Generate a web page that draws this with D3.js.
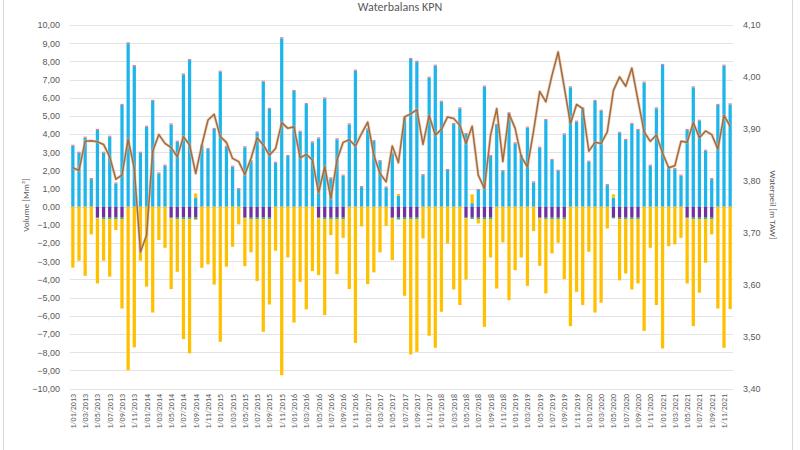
<!DOCTYPE html>
<html><head><meta charset="utf-8">
<script src="https://cdn.jsdelivr.net/npm/d3@7"></script>
<style>
body{margin:0;background:#fff;}
svg{display:block;font-family:Calibri,"Liberation Sans",Carlito,Arial,sans-serif;}
</style></head>
<body><svg id="c" width="800" height="450"></svg>
<script>
// ---- categories: first of each month, Jan 2013 .. Dec 2021
const months = [];
for (let yr = 2013; yr <= 2021; yr++) for (let m = 1; m <= 12; m++) months.push("1/" + String(m).padStart(2, "0") + "/" + yr);

// ---- positive side (Mm³)
const inflow = [
 3.35,2.97,3.80,1.52,4.22,2.97,3.85,1.28,5.60,8.99,7.74,2.97,
 4.40,5.82,1.83,2.26,4.53,3.58,7.28,8.07,0.48,3.36,3.17,4.28,
 7.43,3.30,2.20,0.97,3.27,2.51,4.09,6.88,5.38,2.42,9.27,2.79,
 6.37,4.13,5.65,3.54,3.76,5.96,1.56,3.71,1.71,4.53,7.49,1.08,
 4.26,3.61,2.51,1.06,2.94,0.60,4.90,8.13,7.98,1.74,7.10,7.76,
 5.78,2.02,4.55,5.41,4.00,0.20,0.92,6.61,2.79,4.50,1.96,5.14,
 3.49,2.79,4.35,1.34,3.25,4.77,2.57,1.98,3.98,6.57,4.68,5.41,
 2.48,5.82,5.28,1.19,0.50,4.07,3.67,4.55,4.22,6.83,2.26,5.41,
 7.80,2.17,2.07,1.71,4.22,6.57,4.73,3.08,1.52,5.60,7.76,5.63];
const inflowExtra = [
 0,0,0,0,0,0,0,0,0,0,0,0,
 0,0,0,0,0,0,0,0,0.25,0,0,0,
 0,0,0,0,0,0,0,0,0,0,0,0,
 0,0,0,0,0,0,0,0,0,0,0,0,
 0,0,0,0,0,0.10,0,0,0,0,0,0,
 0,0,0,0,0,0.48,0,0,0,0,0,0,
 0,0,0,0,0,0,0,0,0,0,0,0,
 0,0,0,0,0.18,0,0,0,0,0,0,0,
 0,0,0,0,0,0,0,0,0,0,0,0];
const rain = [
 0.06,0.06,0.06,0.06,0.06,0.06,0.06,0.06,0.06,0.06,0.06,0.06,
 0.06,0.06,0.06,0.06,0.06,0.06,0.06,0.06,0,0.06,0.06,0.06,
 0.06,0.06,0.06,0.06,0.06,0.06,0.06,0.06,0.06,0.06,0.06,0.06,
 0.06,0.06,0.06,0.06,0.06,0.06,0.06,0.06,0.06,0.06,0.06,0.06,
 0.06,0.06,0.06,0.06,0.06,0,0.06,0.06,0.06,0.06,0.06,0.06,
 0.06,0.06,0.06,0.06,0.06,0,0.06,0.06,0.06,0.06,0.06,0.06,
 0.06,0.06,0.06,0.06,0.06,0.06,0.06,0.06,0.06,0.06,0.06,0.06,
 0.06,0.06,0.06,0.06,0,0.06,0.06,0.06,0.06,0.06,0.06,0.06,
 0.06,0.06,0.06,0.06,0.06,0.06,0.06,0.06,0.06,0.06,0.06,0.06];

// ---- negative side (Mm³)
const evaporation = [
 0,0,0,0,-0.6,-0.6,-0.6,-0.6,-0.6,0,0,0,
 0,0,0,0,-0.6,-0.6,-0.6,-0.6,-0.6,0,0,0,
 0,0,0,0,-0.6,-0.6,-0.6,-0.6,-0.6,0,0,0,
 0,0,0,0,-0.6,-0.6,-0.6,-0.6,-0.6,0,0,0,
 0,0,0,0,-0.6,-0.6,-0.6,-0.6,-0.6,0,0,0,
 0,0,0,0,-0.6,-0.6,-0.6,-0.6,-0.6,0,0,0,
 0,0,0,0,-0.6,-0.6,-0.6,-0.6,-0.6,0,0,0,
 0,0,0,0,-0.6,-0.6,-0.6,-0.6,-0.6,0,0,0,
 0,0,0,0,-0.6,-0.6,-0.6,-0.6,-0.6,0,0,0];
const infiltration = [
 0,0,0,0,-0.04,-0.1,-0.1,-0.1,-0.1,0,0,0,
 0,0,0,0,-0.04,-0.1,-0.1,-0.1,-0.1,0,0,0,
 0,0,0,0,-0.04,-0.1,-0.1,-0.1,-0.1,0,0,0,
 0,0,0,0,-0.04,-0.1,-0.1,-0.1,-0.1,0,0,0,
 0,0,0,0,-0.04,-0.1,-0.1,-0.1,-0.1,0,0,0,
 0,0,0,0,-0.04,-0.08,-0.1,-0.1,-0.1,0,0,0,
 0,0,0,0,-0.04,-0.1,-0.1,-0.1,-0.1,0,0,0,
 0,0,0,0,-0.04,-0.08,-0.1,-0.1,-0.1,0,0,0,
 0,0,0,0,-0.04,-0.1,-0.1,-0.1,-0.1,0,0,0];
const outflow = [
 -3.35,-2.97,-3.80,-1.52,-3.58,-2.27,-3.15,-0.58,-4.90,-8.99,-7.74,-2.97,
 -4.40,-5.82,-1.83,-2.26,-3.89,-2.88,-6.58,-7.37,-0.03,-3.36,-3.17,-4.28,
 -7.43,-3.30,-2.20,-0.97,-2.63,-1.81,-3.39,-6.18,-4.68,-2.42,-9.27,-2.79,
 -6.37,-4.13,-5.65,-3.54,-3.12,-5.26,-0.86,-3.01,-1.01,-4.53,-7.49,-1.08,
 -4.26,-3.61,-2.51,-1.06,-2.30,0,-4.20,-7.43,-7.28,-1.74,-7.10,-7.76,
 -5.78,-2.02,-4.55,-5.41,-3.36,0,-0.22,-5.91,-2.09,-4.50,-1.96,-5.14,
 -3.49,-2.79,-4.35,-1.34,-2.61,-4.07,-1.87,-1.28,-3.28,-6.57,-4.68,-5.41,
 -2.48,-5.82,-5.28,-1.19,0,-3.37,-2.97,-3.85,-3.52,-6.83,-2.26,-5.41,
 -7.80,-2.17,-2.07,-1.71,-3.58,-5.87,-4.03,-2.38,-0.82,-5.60,-7.76,-5.63];

// ---- water level (m TAW)
const waterLevel = [
 3.825,3.820,3.876,3.877,3.875,3.870,3.846,3.803,3.811,3.880,3.824,3.663,
 3.695,3.857,3.889,3.872,3.864,3.846,3.885,3.869,3.814,3.869,3.917,3.928,
 3.885,3.874,3.843,3.837,3.812,3.843,3.883,3.869,3.849,3.862,3.912,3.901,
 3.904,3.844,3.851,3.840,3.777,3.827,3.766,3.840,3.874,3.879,3.867,3.891,
 3.913,3.849,3.814,3.798,3.867,3.835,3.923,3.929,3.937,3.870,3.926,3.888,
 3.899,3.923,3.920,3.907,3.872,3.905,3.811,3.785,3.888,3.939,3.837,3.929,
 3.901,3.846,3.827,3.896,3.972,3.952,4.003,4.048,3.980,3.910,3.947,3.939,
 3.857,3.874,3.872,3.894,3.974,4.000,3.982,4.017,3.955,3.894,3.876,3.888,
 3.853,3.825,3.829,3.876,3.874,3.912,3.883,3.896,3.889,3.861,3.926,3.905];

const leftTicks = d3.range(-10, 10.001, 1);
const rightTicks = [3.40,3.50,3.60,3.70,3.80,3.90,4.00,4.10];

const series = [
 {key:"inflow", vals:inflow, color:"#1fb5ea"},
 {key:"extra", vals:inflowExtra, color:"#ffc000"},
 {key:"rain", vals:rain, color:"#ff7a7a"},
 {key:"evap", vals:evaporation, color:"#7030a0"},
 {key:"infil", vals:infiltration, color:"#3fb35a"},
 {key:"outflow", vals:outflow, color:"#ffc000"}
];

const table = months.map((m,i)=>{const o={month:m,i:i}; series.forEach(s=>o[s.key]=s.vals[i]); return o;});

const svg = d3.select("#c");
const L = 70, R = 733, T = 25, B = 388.5;
const x = d3.scaleBand().domain(months).range([L,R]).paddingInner(0.47).paddingOuter(0.2);
const y = d3.scaleLinear().domain([-10,10]).range([B,T]);
const y2 = d3.scaleLinear().domain([3.40,4.10]).range([B,T]);
const fmt = v => d3.format(".2f")(v).replace(".", ",");

// border lines of chart area
svg.append("line").attr("x1",3.5).attr("x2",3.5).attr("y1",0).attr("y2",450).attr("stroke","#d9d9d9");
svg.append("line").attr("x1",792.5).attr("x2",792.5).attr("y1",0).attr("y2",450).attr("stroke","#d9d9d9");

// gridlines
svg.append("g").selectAll("line").data(leftTicks).join("line")
 .attr("x1",L).attr("x2",R).attr("y1",d=>Math.round(y(d))+0.5).attr("y2",d=>Math.round(y(d))+0.5)
 .attr("stroke","#e3e3e3").attr("stroke-width",1);

// left axis
const ax = svg.append("g").attr("transform",`translate(${L},0)`)
 .call(d3.axisLeft(y).tickValues(leftTicks).tickFormat(fmt).tickSize(0).tickPadding(10));
ax.select(".domain").remove();
ax.selectAll("text").attr("fill","#595959").style("font-size","9px");

// right axis
const ax2 = svg.append("g").attr("transform",`translate(${R},0)`)
 .call(d3.axisRight(y2).tickValues(rightTicks).tickFormat(fmt).tickSize(0).tickPadding(10));
ax2.select(".domain").remove();
ax2.selectAll("text").attr("fill","#595959").style("font-size","9px");

// bars
const stack = d3.stack().keys(series.map(s=>s.key)).offset(d3.stackOffsetDiverging);
const layers = stack(table);
svg.append("g").selectAll("g").data(layers).join("g")
 .attr("fill",(d,k)=>series[k].color)
 .selectAll("rect").data(d=>d).join("rect")
 .attr("x",d=>x(d.data.month)).attr("width",x.bandwidth())
 .attr("y",d=>y(Math.max(d[0],d[1])))
 .attr("height",d=>Math.abs(y(d[0])-y(d[1])));

// water level line
const line = d3.line().x((d,i)=>x(months[i])+x.bandwidth()/2).y(d=>y2(d));
svg.append("path").datum(waterLevel).attr("d",line).attr("fill","none")
 .attr("stroke","#d9b79a").attr("stroke-width",3).attr("stroke-linejoin","round").attr("opacity",0.6);
svg.append("path").datum(waterLevel).attr("d",line).attr("fill","none")
 .attr("stroke","#a66a3c").attr("stroke-width",1.5).attr("stroke-linejoin","round");

// x labels (every 2 months)
svg.append("g").selectAll("text").data(months.filter((m,i)=>i%2===0)).join("text")
 .attr("transform",d=>`translate(${x(d)+x.bandwidth()/2+3},394) rotate(-90)`)
 .attr("text-anchor","end").attr("fill","#595959").style("font-size","8px").text(d=>d);

// titles
svg.append("text").attr("x",400).attr("y",11).attr("text-anchor","middle")
 .attr("fill","#595959").style("font-size","12px").text("Waterbalans KPN");
svg.append("text").attr("transform","translate(29,205) rotate(-90)").attr("text-anchor","middle")
 .attr("fill","#595959").style("font-size","9px").text("Volume [Mm³]");
svg.append("text").attr("transform","translate(770,205) rotate(90)").attr("text-anchor","middle")
 .attr("fill","#595959").style("font-size","9px").text("Waterpeil [m TAW]");
</script></body></html>
